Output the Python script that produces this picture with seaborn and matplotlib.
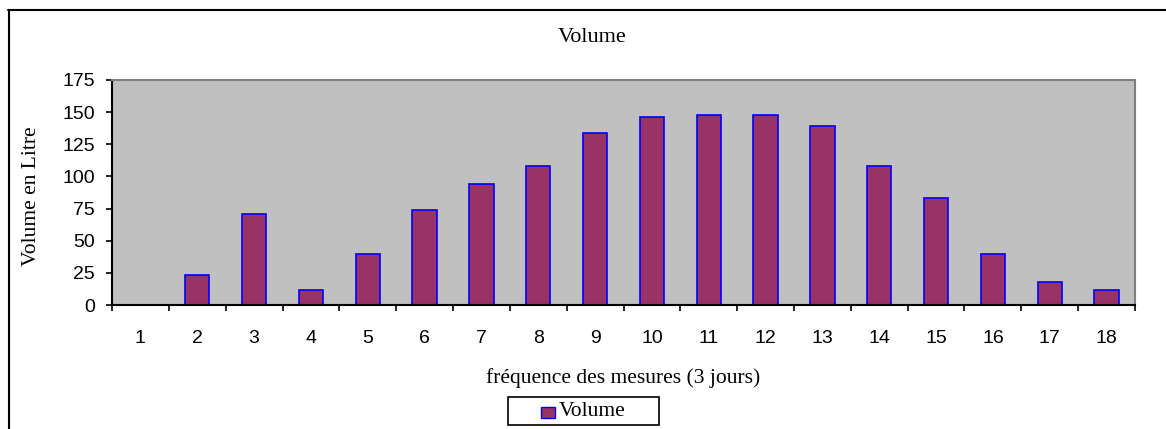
import matplotlib
matplotlib.use("Agg")
import matplotlib.pyplot as plt
from matplotlib.patches import Rectangle
from matplotlib.lines import Line2D
import seaborn as sns
import pandas as pd

# Volume measured at each 3-day reading
categories = [str(i) for i in range(1, 19)]
volumes = [0, 23, 71, 12, 40, 74, 94, 108, 134, 146, 148, 148, 139, 108, 83, 40, 18, 12]
y_ticks = [0, 25, 50, 75, 100, 125, 150, 175]

title = "Volume"
x_label = "fréquence des mesures (3 jours)"
y_label = "Volume en Litre"
series_name = "Volume"

bar_fill = "#993366"
bar_edge = "#0000FF"
plot_bg = "#C0C0C0"
serif = ["Liberation Serif", "DejaVu Serif"]
sans = ["Liberation Sans", "DejaVu Sans"]

sns.set_theme(style="white")
plt.rcParams["font.family"] = sans

W, H = 1166, 429
fig = plt.figure(figsize=(W / 100, H / 100), dpi=100)
fig.patch.set_facecolor("white")

left, right, top, bottom = 112, 1135, 80, 305
ax = fig.add_axes([left / W, 1 - bottom / H, (right - left) / W, (bottom - top) / H])
ax.set_facecolor(plot_bg)

df = pd.DataFrame({"mesure": categories, "volume": volumes})
sns.barplot(data=df, x="mesure", y="volume", color=bar_fill, saturation=1,
            edgecolor=bar_edge, linewidth=1.2, width=0.43, ax=ax, zorder=2)

ax.set_ylim(0, 175)
ax.set_xlim(-0.5, len(categories) - 0.5)
ax.set_yticks(y_ticks)
ax.set_yticklabels([str(t) for t in y_ticks])
ax.set_xticks(range(len(categories)))
ax.set_xticklabels(categories)
ax.set_xticks([i - 0.5 for i in range(len(categories) + 1)], minor=True)

ax.tick_params(axis="y", which="major", direction="out", length=4.5, width=1.2,
               color="black", pad=8, labelsize=14, left=True)
ax.tick_params(axis="x", which="major", length=0, pad=18, labelsize=14, bottom=True)
ax.tick_params(axis="x", which="minor", direction="out", length=4.5, width=1.2,
               color="black", bottom=True)
for lbl in ax.get_xticklabels() + ax.get_yticklabels():
    lbl.set_fontfamily(sans)
    lbl.set_color("black")

for side in ("top", "right"):
    ax.spines[side].set_color("#808080")
    ax.spines[side].set_linewidth(1.5)
    ax.spines[side].set_visible(True)
for side in ("left", "bottom"):
    ax.spines[side].set_color("black")
    ax.spines[side].set_linewidth(1.5)
    ax.spines[side].set_visible(True)

ax.set_xlabel(x_label, fontsize=15.5, family=serif, color="black")
ax.xaxis.set_label_coords(0.5, (bottom - 368) / (bottom - top))
ax.set_ylabel("")

fig.text(592 / W, 1 - 38 / H, title, ha="center", va="center",
         fontsize=16, family=serif, color="black")
fig.text(32 / W, 1 - 196 / H, y_label, ha="center", va="center", rotation=90,
         fontsize=15.5, family=serif, color="black")

# legend box
lx0, lx1, ly0, ly1 = 508, 659, 397, 425
fig.patches.append(Rectangle((lx0 / W, 1 - ly1 / H), (lx1 - lx0) / W, (ly1 - ly0) / H,
                             transform=fig.transFigure, facecolor="white",
                             edgecolor="black", linewidth=1.2))
fig.patches.append(Rectangle((541 / W, 1 - 418 / H), 14 / W, 11 / H,
                             transform=fig.transFigure, facecolor=bar_fill,
                             edgecolor=bar_edge, linewidth=1.0))
fig.text(559 / W, 1 - 412 / H, series_name, ha="left", va="center",
         fontsize=15.5, family=serif, color="black")

# outer chart frame
fig.add_artist(Line2D([8.5 / W, 8.5 / W], [0, 1 - 10 / H], transform=fig.transFigure,
                      color="black", linewidth=1.5))
fig.add_artist(Line2D([8 / W, 1], [1 - 10 / H, 1 - 10 / H], transform=fig.transFigure,
                      color="black", linewidth=1.5))

fig.savefig("out.png", dpi=100, facecolor="white")
